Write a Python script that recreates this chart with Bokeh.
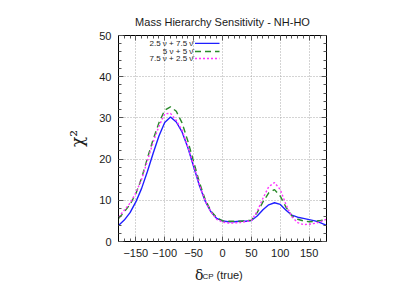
import math
from bokeh.plotting import figure
from bokeh.layouts import column
from bokeh.models import (Range1d, LinearAxis, SingleIntervalTicker, Label, Title,
                          CustomJSTickFormatter)
from bokeh.embed import file_html
from bokeh.resources import INLINE

# ---- data ----
delta_cp = [-180, -170, -160, -150, -140, -130, -120, -110, -100, -90, -80, -70, -60,
            -50, -40, -30, -20, -10, 0, 10, 20, 30, 40, 50, 60, 70, 80, 90, 100,
            110, 120, 130, 140, 150, 160, 170, 180]
chi2_25_75 = [3.9, 5.2, 7.0, 9.6, 12.9, 17.0, 21.4, 25.6, 28.9, 30.2, 29.0, 26.6, 22.8,
              18.2, 13.6, 9.8, 7.2, 5.6, 5.0, 4.8, 4.8, 4.9, 4.9, 5.1, 6.2, 7.7, 8.9, 9.4, 9.0,
              7.6, 6.4, 5.9, 5.6, 5.3, 5.0, 4.5, 3.9]
chi2_5_5 = [5.6, 7.2, 9.0, 11.6, 15.4, 20.2, 24.8, 28.8, 31.9, 32.7, 31.6, 28.8, 24.4,
            19.4, 14.4, 10.2, 7.4, 5.8, 5.0, 4.9, 4.9, 4.9, 5.0, 5.2, 7.0, 9.6, 11.8, 12.6, 11.0,
            8.3, 6.2, 5.4, 5.0, 4.8, 4.9, 5.1, 5.4]
chi2_75_25 = [5.9, 7.6, 9.3, 11.8, 15.1, 19.6, 24.1, 28.0, 31.0, 31.1, 29.4, 27.0, 23.0,
              18.5, 13.8, 9.9, 7.2, 5.4, 4.7, 4.5, 4.5, 4.6, 4.8, 5.1, 7.3, 10.5, 13.3, 14.3, 12.6,
              8.9, 6.0, 4.6, 4.1, 4.2, 4.4, 4.8, 5.4]
series_labels = ["2.5 \u03bd + 7.5 \u03bd\u0304", "5 \u03bd + 5 \u03bd\u0304", "7.5 \u03bd + 2.5 \u03bd\u0304"]
title_text = "Mass Hierarchy Sensitivity - NH-HO"
y_label = "\u03c7\u00b2"

FONT = "Liberation Sans"
TXT = "#1a1a1a"
colors = ["#1f1fff", "#2a8a2a", "#ff33ff"]
dashes = ["solid", "6 4", "2 2"]

W = 412
p = figure(width=W, height=265, frame_width=208, frame_height=206,
           min_border_left=118, min_border_right=W - 118 - 208, min_border_top=35,
           min_border_bottom=24,
           x_range=Range1d(-180, 180), y_range=Range1d(0, 50),
           output_backend="svg", toolbar_location=None, x_axis_location=None,
           y_axis_location=None)
p.background_fill_color = "white"
p.border_fill_color = "white"
p.outline_line_color = "black"
p.outline_line_width = 1

p.title.text = title_text
p.title.text_font = FONT
p.title.text_font_size = "11px"
p.title.text_font_style = "normal"
p.title.text_color = TXT
p.title.align = "center"
p.title.standoff = 16

xt = SingleIntervalTicker(interval=50, num_minor_ticks=5)
yt = SingleIntervalTicker(interval=10, num_minor_ticks=5)

def mk_axis(ticker, labels=True):
    ax = LinearAxis(ticker=ticker)
    ax.axis_line_color = "black"
    ax.major_tick_in = 5
    ax.major_tick_out = 0
    ax.minor_tick_in = 3
    ax.minor_tick_out = 0
    ax.major_tick_line_color = "#555555"
    ax.minor_tick_line_color = "#555555"
    if labels:
        ax.major_label_text_font = FONT
        ax.major_label_text_font_size = "11px"
        ax.major_label_text_color = TXT
        ax.major_label_standoff = 7
    else:
        ax.formatter = CustomJSTickFormatter(code="return ''")
        ax.major_label_standoff = 0
    return ax

p.add_layout(mk_axis(xt), "below")
p.add_layout(mk_axis(yt), "left")
p.add_layout(Title(text=y_label, align="center", offset=30, standoff=20,
                   text_font="DejaVu Serif", text_font_size="17px",
                   text_font_style="normal", text_color=TXT), "left")
p.add_layout(mk_axis(xt, False), "above")
p.add_layout(mk_axis(yt, False), "right")

p.xgrid.ticker = xt
p.ygrid.ticker = yt
for g in (p.xgrid, p.ygrid):
    g.grid_line_color = "#a8a8a8"
    g.grid_line_dash = "1 2"
    g.grid_line_width = 1

series = [chi2_25_75, chi2_5_5, chi2_75_25]
for ys, c, d in zip(series, colors, dashes):
    p.line(delta_cp, ys, line_color=c, line_dash=d, line_width=1.4)

# ---- legend (gnuplot style: text left of the sample line) ----
leg_y = [48.1, 46.1, 44.4]
for lab, c, d, yy in zip(series_labels, colors, dashes, leg_y):
    p.add_layout(Label(x=-50.5, y=yy, text=lab, text_font=FONT, text_font_size="8px",
                       text_align="right", text_baseline="middle", text_color=TXT))
    p.line([-47.6, -5.2], [yy, yy], line_color=c, line_dash=d, line_width=1.4)

# ---- x-axis title strip (delta_CP (true)); its frame is aligned with p's frame ----
H2 = 23
q = figure(width=W, height=H2, frame_width=208, x_range=p.x_range, y_range=Range1d(0, H2),
           min_border_left=118, min_border_right=W - 118 - 208, min_border_top=0,
           min_border_bottom=0,
           output_backend="svg", toolbar_location=None, x_axis_location=None,
           y_axis_location=None)
q.outline_line_color = None
q.grid.visible = False
q.background_fill_color = "white"
q.border_fill_color = "white"
base = H2 - 9
px2x = 360.0 / 208.0
q.add_layout(Label(x=-180 + (194.5 - 118) * px2x, y=base, text="\u03b4", text_font="DejaVu Serif",
                   text_font_size="14px", text_align="left", text_baseline="alphabetic",
                   text_color=TXT))
q.add_layout(Label(x=-180 + (202 - 118) * px2x, y=base - 2, text="CP", text_font=FONT,
                   text_font_size="8px", text_align="left", text_baseline="alphabetic",
                   text_color=TXT))
q.add_layout(Label(x=-180 + (216 - 118) * px2x, y=base, text="(true)", text_font=FONT,
                   text_font_size="11px", text_align="left", text_baseline="alphabetic",
                   text_color=TXT))

layout = column(p, q, spacing=0)
open("out.html", "w").write(file_html(layout, INLINE))
